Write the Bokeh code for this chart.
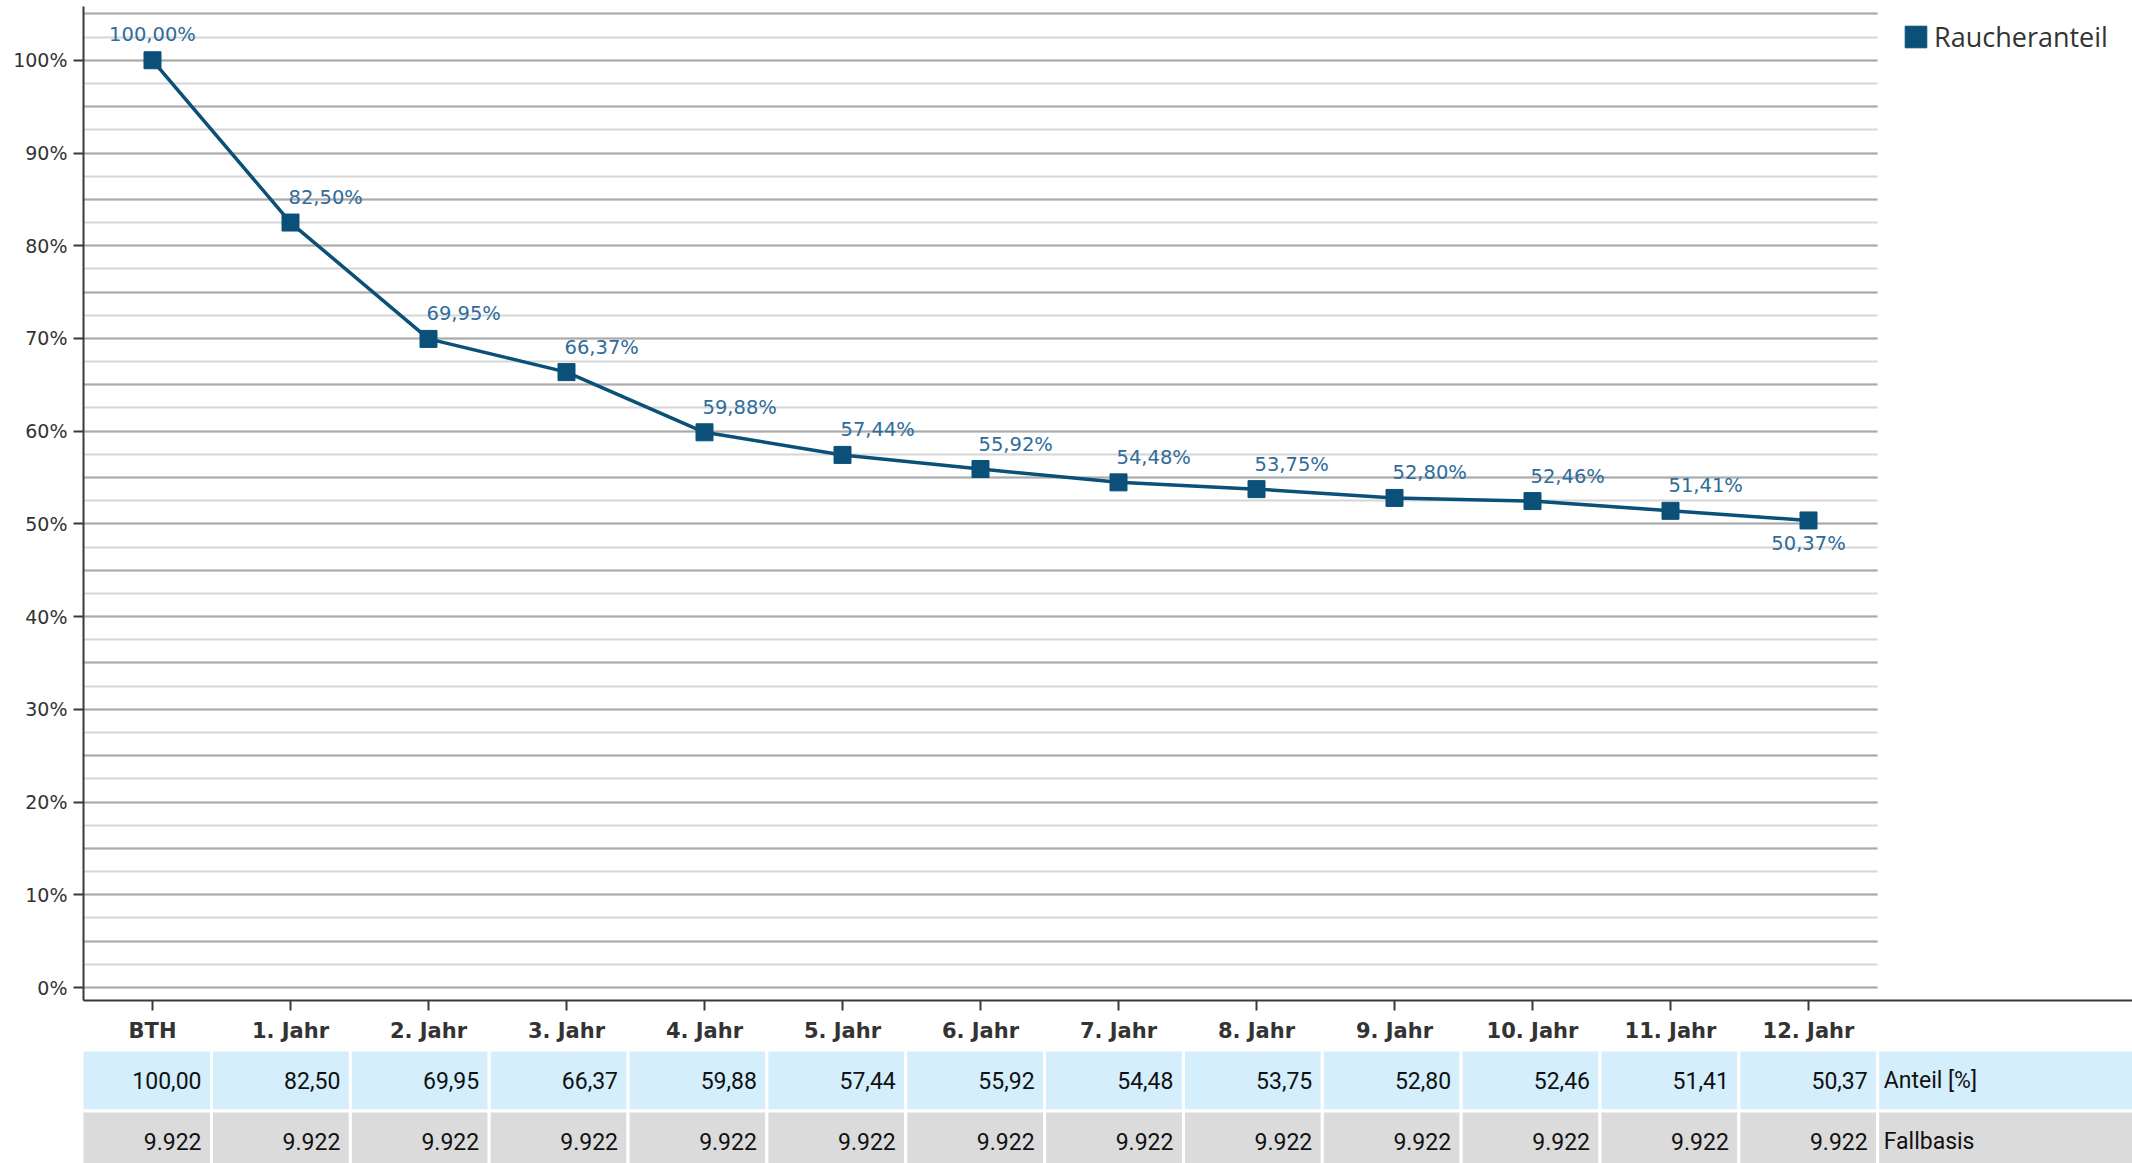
from bokeh.plotting import figure
from bokeh.models import (ColumnDataSource, FixedTicker, SingleIntervalTicker,
                          PrintfTickFormatter, Legend, LegendItem, Range1d)
from bokeh.layouts import column
from bokeh.core.properties import value, field
from bokeh.transform import dodge
from bokeh.embed import file_html
from bokeh.resources import INLINE

# ---------------- data ----------------
categories = ["BTH", "1. Jahr", "2. Jahr", "3. Jahr", "4. Jahr", "5. Jahr", "6. Jahr",
              "7. Jahr", "8. Jahr", "9. Jahr", "10. Jahr", "11. Jahr", "12. Jahr"]
raucheranteil = [100.00, 82.50, 69.95, 66.37, 59.88, 57.44, 55.92,
                 54.48, 53.75, 52.80, 52.46, 51.41, 50.37]
fallbasis = [9922, 9922, 9922, 9922, 9922, 9922, 9922,
             9922, 9922, 9922, 9922, 9922, 9922]
row_labels = ["Anteil [%]", "Fallbasis"]
series_name = "Raucheranteil"

# ---------------- styles ----------------
LINE = "#0a5078"
LABEL = "#2f6c9b"
TEXT = "#333333"
BLUE_ROW = "#d4eefc"
GREY_ROW = "#dbdbdb"

label_align = ["center"] + ["left"] * 11 + ["center"]
label_dx = [0] + [-2] * 11 + [0]
label_dy = [-26] + [-25] * 11 + [23]


def de_pct(v):
    return f"{v:.2f}".replace(".", ",")


def de_int(n):
    return f"{n:,}".replace(",", ".")


idx = list(range(len(categories)))

# ---------------- chart ----------------
LEFT_A = 83
FW, FH = 2132 - LEFT_A, 994
PX_PER_CAT = 138.0
pA = figure(frame_width=FW, frame_height=FH,
            min_border_left=LEFT_A, min_border_right=0, min_border_top=6, min_border_bottom=44,
            x_range=Range1d(-0.5, -0.5 + FW / PX_PER_CAT),
            y_range=Range1d(-1.4, 105.8),
            output_backend="svg", toolbar_location=None)
pA.outline_line_color = None
pA.background_fill_color = "white"
pA.border_fill_color = "white"

yax = pA.yaxis[0]
yax.ticker = SingleIntervalTicker(interval=10, num_minor_ticks=0)
yax.formatter = PrintfTickFormatter(format="%d%%")
yax.major_label_text_font = "DejaVu Sans"
yax.major_label_text_font_size = "19px"
yax.major_label_text_color = TEXT
yax.axis_line_color = "#3a3a3a"
yax.axis_line_width = 2
yax.major_tick_line_color = "#3a3a3a"
yax.major_tick_line_width = 2
yax.major_tick_out = 10
yax.major_tick_in = 0
yax.minor_tick_line_color = None
yax.major_label_standoff = 6

xax = pA.xaxis[0]
xax.ticker = FixedTicker(ticks=idx)
xax.major_label_overrides = {i: c for i, c in zip(idx, categories)}
xax.major_label_text_font = "DejaVu Sans"
xax.major_label_text_font_style = "bold"
xax.major_label_text_font_size = "21px"
xax.major_label_text_color = TEXT
xax.axis_line_color = "#3a3a3a"
xax.axis_line_width = 2
xax.major_tick_line_color = "#3a3a3a"
xax.major_tick_line_width = 2
xax.major_tick_out = 10
xax.major_tick_in = 0
xax.minor_tick_line_color = None
xax.major_label_standoff = 8

pA.xgrid.visible = False
yg = pA.ygrid[0]
yg.ticker = SingleIntervalTicker(interval=5, num_minor_ticks=2)
yg.grid_line_color = "#ababab"
yg.grid_line_width = 2
yg.minor_grid_line_color = "#d6d6d6"
yg.minor_grid_line_width = 2
yg.cross_bounds = (-0.5, len(categories) - 0.5)

src = ColumnDataSource(dict(
    x=idx, y=raucheranteil,
    label=[de_pct(v) + "%" for v in raucheranteil],
    align=label_align, dx=label_dx, dy=label_dy,
))

pA.line("x", "y", source=src, line_color=LINE, line_width=3.5)
mk = pA.rect("x", "y", width=17, height=17, width_units="screen", height_units="screen",
             source=src, fill_color=LINE, line_color=LINE)
pA.text("x", "y", text="label", source=src, text_align=field("align"),
        x_offset=field("dx"), y_offset=field("dy"), text_baseline="alphabetic",
        text_font=value("DejaVu Sans"), text_font_size="19.5px", text_color=LABEL)

legend = Legend(items=[LegendItem(label=series_name, renderers=[mk])],
                location="top_right", margin=12, padding=14,
                glyph_width=27, glyph_height=27, label_standoff=5, label_width=186,
                label_text_font="Open Sans", label_text_font_size="27px",
                label_text_color=TEXT, border_line_color=None,
                background_fill_alpha=0)
pA.add_layout(legend)

# ---------------- table ----------------
LEFT_B = 83
TW, TH = 2132 - LEFT_B, 1163 - (6 + FH + 44)
TPX = 138.85
FIRST_CELL_PX = 128.0  # visible width of the first column (cut by frame edge)
ROW_PX = 61.0
top_off = 35.0  # px from table top to centre of first row
x0 = 0.5 - FIRST_CELL_PX / TPX
pB = figure(frame_width=TW, frame_height=TH,
            min_border_left=LEFT_B, min_border_right=0, min_border_top=0, min_border_bottom=0,
            x_range=Range1d(x0, x0 + TW / TPX),
            y_range=Range1d((TH - top_off) / ROW_PX, -top_off / ROW_PX),
            x_axis_location=None, y_axis_location=None,
            output_backend="svg", toolbar_location=None)
pB.outline_line_color = None
pB.grid.visible = False
pB.background_fill_color = "white"
pB.border_fill_color = "white"

tsrc = ColumnDataSource(dict(
    x=idx,
    r0=[0] * len(idx), r1=[1] * len(idx),
    anteil=[de_pct(v) for v in raucheranteil],
    fall=[de_int(n) for n in fallbasis],
))
lsrc = ColumnDataSource(dict(x=[len(categories) - 0.5] * 2, y=[0, 1], text=row_labels,
                             c=[BLUE_ROW, GREY_ROW]))

pB.rect("x", "r0", width=1, height=1, source=tsrc, fill_color=BLUE_ROW,
        line_color="white", line_width=3)
pB.rect("x", "r1", width=1, height=1, source=tsrc, fill_color=GREY_ROW,
        line_color="white", line_width=3)
pB.rect(dodge("x", 1.0), "y", width=2, height=1, source=lsrc,
        fill_color="c", line_color="white", line_width=3)

tfont = value("Roboto")
TSIZE = "23px"
TCOL = "#111111"
pB.text(dodge("x", 0.5), "r0", text="anteil", source=tsrc, x_offset=-10,
        text_align="right", text_baseline="middle", text_font=tfont,
        text_font_size=TSIZE, text_color=TCOL)
pB.text(dodge("x", 0.5), "r1", text="fall", source=tsrc, x_offset=-10,
        text_align="right", text_baseline="middle", text_font=tfont,
        text_font_size=TSIZE, text_color=TCOL)
pB.text("x", "y", text="text", source=lsrc, x_offset=6,
        text_align="left", text_baseline="middle", text_font=tfont,
        text_font_size=TSIZE, text_color=TCOL)

layout = column(pA, pB, spacing=0)
open("out.html", "w").write(file_html(layout, INLINE, "Raucheranteil"))
